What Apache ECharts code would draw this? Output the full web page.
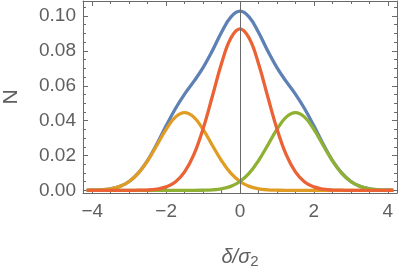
<!DOCTYPE html>
<html>
<head>
<meta charset="utf-8">
<script src="https://cdn.jsdelivr.net/npm/echarts@6/dist/echarts.min.js"></script>
<style>html,body{margin:0;padding:0;background:#fff}#c{width:400px;height:270px}</style>
</head>
<body>
<div id="c"></div>
<script>
// x positions (δ/σ2)
const deltas = [-4.15,-4,-3.75,-3.5,-3.25,-3,-2.75,-2.5,-2.25,-2,-1.75,-1.5,-1.25,-1,-0.75,-0.5,-0.25,0,0.25,0.5,0.75,1,1.25,1.5,1.75,2,2.25,2.5,2.75,3,3.25,3.5,3.75,4,4.15];
// total (blue)
const totalVals = [0.0000,0.0001,0.0003,0.0009,0.0023,0.0051,0.0100,0.0172,0.0266,0.0370,0.0468,0.0552,0.0625,0.0704,0.0800,0.0907,0.0994,0.1028,0.0994,0.0907,0.0800,0.0704,0.0625,0.0552,0.0468,0.0370,0.0266,0.0172,0.0100,0.0051,0.0023,0.0009,0.0003,0.0001,0.0000];
// left component (orange)
const leftVals = [0.0000,0.0001,0.0003,0.0009,0.0023,0.0051,0.0099,0.0170,0.0259,0.0350,0.0420,0.0446,0.0420,0.0350,0.0259,0.0170,0.0099,0.0051,0.0023,0.0009,0.0003,0.0001,0,0,0,0,0,0,0,0,0,0,0,0,0];
// right component (green)
const rightVals = [0,0,0,0,0,0,0,0,0,0,0,0,0,0.0001,0.0003,0.0009,0.0023,0.0051,0.0099,0.0170,0.0259,0.0350,0.0420,0.0446,0.0420,0.0350,0.0259,0.0170,0.0099,0.0051,0.0023,0.0009,0.0003,0.0001,0.0000];
// central component (red)
const centerVals = [0,0,0,0,0,0,0.0001,0.0002,0.0007,0.0020,0.0048,0.0106,0.0205,0.0353,0.0538,0.0728,0.0872,0.0926,0.0872,0.0728,0.0538,0.0353,0.0205,0.0106,0.0048,0.0020,0.0007,0.0002,0.0001,0,0,0,0,0,0];

const xMajorTicks = [-4,-2,0,2,4];
const xMinorTicks = [-3.5,-3,-2.5,-1.5,-1,-0.5,0.5,1,1.5,2.5,3,3.5];
const yMajorTicks = [0,0.02,0.04,0.06,0.08,0.10];
const yMinorTicks = [0.005,0.01,0.015,0.025,0.03,0.035,0.045,0.05,0.055,0.065,0.07,0.075,0.085,0.09,0.095,0.105];

const frameColor = '#6a6a6a';
const labelColor = '#5f5f5f';
const XMIN = -4.25, XMAX = 4.25, YMIN = -0.0015, YMAX = 0.1086;

function pairs(vals){ return deltas.map((d,i)=>[d, vals[i]]); }

function xAx(pos, ticks, len, showLine, showLabel){
  return {
    type:'value', min:XMIN, max:XMAX, position:pos,
    axisLine:{show:showLine, onZero:false, lineStyle:{color:frameColor, width:1}},
    axisTick:{show:true, inside:true, length:len, customValues:ticks, lineStyle:{color:frameColor, width:1}},
    axisLabel:{show:showLabel, customValues:ticks, margin:9, color:labelColor,
      fontFamily:'Liberation Sans', fontSize:19,
      formatter: v => (v<0?'\u2212':'') + Math.abs(v)},
    splitLine:{show:false}
  };
}
function yAx(pos, ticks, len, showLine, showLabel){
  return {
    type:'value', min:YMIN, max:YMAX, position:pos,
    axisLine:{show:showLine, onZero:false, lineStyle:{color:frameColor, width:1}},
    axisTick:{show:true, inside:true, length:len, customValues:ticks, lineStyle:{color:frameColor, width:1}},
    axisLabel:{show:showLabel, customValues:ticks, margin:7, color:labelColor,
      fontFamily:'Liberation Sans', fontSize:19,
      formatter: v => v.toFixed(2)},
    splitLine:{show:false}
  };
}

const xAxes = [
  xAx('bottom', xMajorTicks, 5, true, true),
  xAx('bottom', xMinorTicks, 3, false, false),
  xAx('top', xMajorTicks, 5, true, false),
  xAx('top', xMinorTicks, 3, false, false)
];
Object.assign(xAxes[0], {
  name:'{i|\u03b4/\u03c3}{s|2}', nameLocation:'middle', nameGap:53,
  nameTextStyle:{rich:{
    i:{fontFamily:'Liberation Sans', fontStyle:'italic', fontSize:20, color:labelColor},
    s:{fontFamily:'Liberation Sans', fontSize:15, color:labelColor, padding:[8,0,0,0]}
  }}
});
const yAxes = [
  yAx('left', yMajorTicks, 5, true, true),
  yAx('left', yMinorTicks, 3, false, false),
  yAx('right', yMajorTicks, 5, true, false),
  yAx('right', yMinorTicks, 3, false, false)
];
Object.assign(yAxes[0], {
  name:'N', nameLocation:'middle', nameGap:61, nameRotate:90,
  nameTextStyle:{fontFamily:'Liberation Sans', fontSize:21, color:labelColor}
});

const seriesDefs = [
  {vals: totalVals, color:'#5E81B5'},
  {vals: leftVals, color:'#E19C24'},
  {vals: rightVals, color:'#8FB032'},
  {vals: centerVals, color:'#EB6235'}
];

const chart = echarts.init(document.getElementById('c'), null, {renderer:'canvas'});
chart.setOption({
  animation:false,
  backgroundColor:'#fff',
  grid:{left:83, right:3, top:1, bottom:77, containLabel:false, outerBoundsMode:'none'},
  xAxis: xAxes,
  yAxis: yAxes,
  series: seriesDefs.map((s,i)=>({
    type:'line', data:pairs(s.vals), xAxisIndex:0, yAxisIndex:0,
    showSymbol:false, smooth:0.4, z:2+i*0.01,
    lineStyle:{color:s.color, width:3.3}, itemStyle:{color:s.color}
  })).concat([{
    type:'line', data:[], xAxisIndex:0, yAxisIndex:0, z:5,
    markLine:{silent:true, symbol:['none','none'], label:{show:false},
      lineStyle:{color:frameColor, width:1, type:'solid'},
      data:[{xAxis:0}]}
  }])
});
</script>
</body>
</html>
